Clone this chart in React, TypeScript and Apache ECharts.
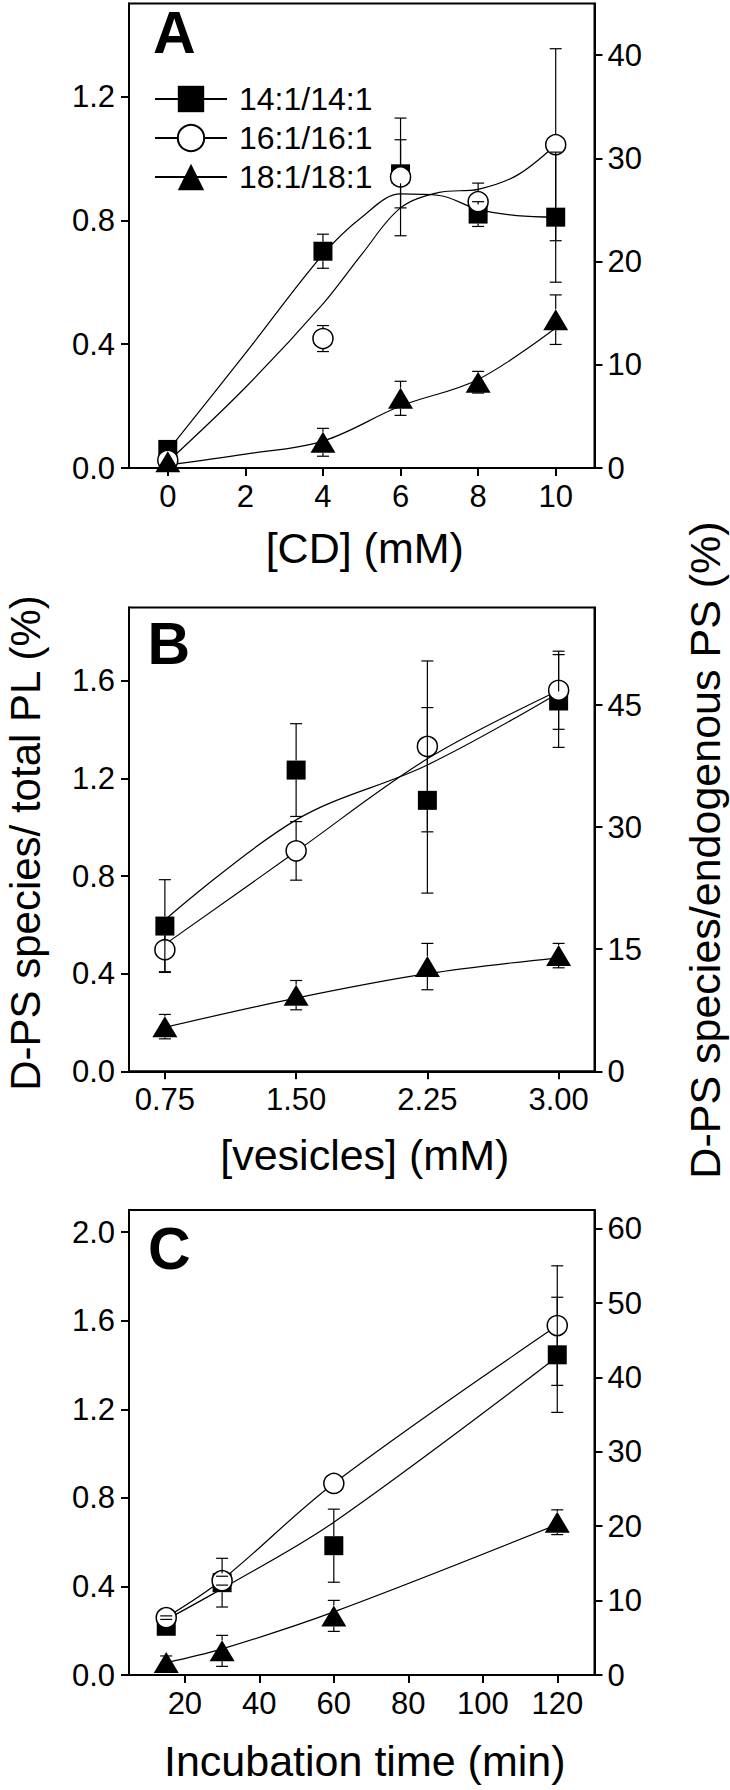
import React, { useEffect, useRef } from 'react';
import * as echarts from 'echarts';

const FONT = "'Liberation Sans', Arial, Helvetica, sans-serif";

// ---------- Panel A : [CD] (mM) ----------
const aX = [0, 4, 6, 8, 10];
const a14 = [0.06, 0.70, 0.95, 0.82, 0.81];
const a14Err = [0, 0.055, 0.11, 0.04, 0.21];
const a16 = [0.025, 0.418, 0.94, 0.86, 1.044];
const a16Err = [0, 0.042, 0.19, 0.06, 0.31];
const a18 = [0.02, 0.083, 0.225, 0.277, 0.479];
const a18Err = [0, 0.045, 0.055, 0.035, 0.08];
const aFitX = [0, 2, 4, 5, 6, 7, 8, 9, 10];
const a14Fit = [0.055, 0.37, 0.69, 0.81, 0.885, 0.88, 0.835, 0.815, 0.81];
const a16Fit = [0.02, 0.26, 0.53, 0.69, 0.84, 0.89, 0.9, 0.945, 1.044];
const a18FitX = [0, 2, 4, 6, 8, 10];
const a18Fit = [0.01, 0.045, 0.087, 0.2, 0.286, 0.452];
const aXTicks = [0, 2, 4, 6, 8, 10];
const aYTicks = [0, 0.4, 0.8, 1.2];
const aY2Ticks = [0, 10, 20, 30, 40];

// ---------- Panel B : [vesicles] (mM) ----------
const bX = [0.75, 1.5, 2.25, 3.0];
const b14 = [0.595, 1.234, 1.11, 1.517];
const b14Err = [0.19, 0.19, 0.38, 0.19];
const b16 = [0.498, 0.903, 1.331, 1.561];
const b16Err = [0.09, 0.12, 0.35, 0.16];
const b18 = [0.183, 0.312, 0.429, 0.474];
const b18Err = [0.05, 0.06, 0.095, 0.05];
const b14Fit = [0.62, 1.03, 1.255, 1.55];
const b16Fit = [0.52, 0.9, 1.28, 1.56];
const b18Fit = [0.18, 0.3, 0.4, 0.465];
const bXTicks = [0.75, 1.5, 2.25, 3.0];
const bYTicks = [0, 0.4, 0.8, 1.2, 1.6];
const bY2Ticks = [0, 15, 30, 45];

// ---------- Panel C : Incubation time (min) ----------
const cX = [15, 30, 60, 120];
const c14 = [0.22, 0.417, 0.584, 1.446];
const c14Err = [0, 0.11, 0.165, 0.26];
const c16 = [0.259, 0.426, 0.865, 1.578];
const c16Err = [0.008, 0.02, 0, 0.27];
const c18 = [0.056, 0.109, 0.267, 0.69];
const c18Err = [0.03, 0.07, 0.07, 0.056];
const c14Fit = [0.25, 0.39, 0.69, 1.437];
const c16Fit = [0.26, 0.43, 0.865, 1.578];
const c18Fit = [0.056, 0.118, 0.285, 0.68];
const cXTicks = [20, 40, 60, 80, 100, 120];
const cYTicks = [0, 0.4, 0.8, 1.2, 1.6, 2.0];
const cY2Ticks = [0, 10, 20, 30, 40, 50, 60];

const seriesNames = ['14:1/14:1', '16:1/16:1', '18:1/18:1'];

const GRID_LEFT = 129;
const GRID_RIGHT = 135.5;
const grids = [
  { top: 3.5, height: 464.5 },
  { top: 607.5, height: 463.8 },
  { top: 1210, height: 465 },
];

const kinds = [
  { symbol: 'rect', size: 19, half: 9.5, itemStyle: { color: '#000', borderColor: '#000', borderWidth: 0, opacity: 1 } },
  { symbol: 'circle', size: 20, half: 10, itemStyle: { color: '#fff', borderColor: '#000', borderWidth: 1.5, opacity: 1 } },
  { symbol: 'triangle', size: [25, 21], half: 10.5, itemStyle: { color: '#000', borderColor: '#000', borderWidth: 0, opacity: 1 } },
];

function xAxisDef(gi: number, min: number, max: number, ticks: number[], digits: number) {
  return {
    type: 'value', gridIndex: gi, min, max, position: 'bottom',
    axisLine: { show: true, onZero: false, lineStyle: { color: '#000', width: 2 } },
    axisTick: { show: true, inside: false, length: 8, customValues: ticks, lineStyle: { color: '#000', width: 2 } },
    axisLabel: {
      show: true, customValues: ticks, formatter: (v: number) => v.toFixed(digits),
      fontSize: 31, color: '#000', fontFamily: FONT, margin: 13,
    },
    splitLine: { show: false },
  };
}

function yAxisDef(gi: number, pos: string, min: number, max: number, ticks: number[], digits: number) {
  return {
    type: 'value', gridIndex: gi, min, max, position: pos,
    axisLine: { show: true, onZero: false, lineStyle: { color: '#000', width: 2 } },
    axisTick: { show: true, inside: false, length: 8, customValues: ticks, lineStyle: { color: '#000', width: 2 } },
    axisLabel: {
      show: true, customValues: ticks, formatter: (v: number) => v.toFixed(digits),
      fontSize: 31, color: '#000', fontFamily: FONT, margin: pos === 'left' ? 14 : 13,
    },
    splitLine: { show: false },
  };
}

function renderErr(params: any, api: any) {
  const x = api.value(0);
  const y = api.value(1);
  const e = api.value(2);
  const h = api.value(3);
  const c = api.coord([x, y]);
  const t = api.coord([x, y + e]);
  const b = api.coord([x, y - e]);
  const cap = 6;
  const style = { stroke: '#000', lineWidth: 1.2, fill: null };
  const children: any[] = [];
  if (c[1] - t[1] > h) children.push({ type: 'line', shape: { x1: c[0], y1: c[1] - h, x2: c[0], y2: t[1] }, style });
  children.push({ type: 'line', shape: { x1: c[0] - cap, y1: t[1], x2: c[0] + cap, y2: t[1] }, style });
  if (b[1] - c[1] > h) children.push({ type: 'line', shape: { x1: c[0], y1: c[1] + h, x2: c[0], y2: b[1] }, style });
  children.push({ type: 'line', shape: { x1: c[0] - cap, y1: b[1], x2: c[0] + cap, y2: b[1] }, style });
  return { type: 'group', children };
}

function panelSeries(
  gi: number, xs: number[], ys: number[][], errs: number[][], fitXs: number[][], fits: number[][], legendNames: boolean,
) {
  const out: any[] = [];
  for (let k = 0; k < 3; k++) {
    const kind = kinds[k];
    out.push({
      type: 'line', name: legendNames ? seriesNames[k] : `${'ABC'[gi]} fit ${seriesNames[k]}`,
      xAxisIndex: gi, yAxisIndex: gi * 2,
      data: fitXs[k].map((x, i) => [x, fits[k][i]]),
      smooth: 0.35, showSymbol: false, symbol: kind.symbol, symbolSize: kind.size,
      lineStyle: { color: '#000', width: 1.2, opacity: 1 }, itemStyle: kind.itemStyle, z: 2, silent: true,
    });
  }
  for (let k = 0; k < 3; k++) {
    const kind = kinds[k];
    out.push({
      type: 'scatter', name: `${'ABC'[gi]} pts ${seriesNames[k]}`,
      xAxisIndex: gi, yAxisIndex: gi * 2,
      data: xs.map((x, i) => [x, ys[k][i]]),
      symbol: kind.symbol, symbolSize: kind.size, itemStyle: kind.itemStyle, z: 3 + k * 0.1, silent: true,
    });
  }
  for (let k = 0; k < 3; k++) {
    const kind = kinds[k];
    const data = xs.map((x, i) => [x, ys[k][i], errs[k][i], kind.half]).filter((d) => d[2] > 0);
    out.push({
      type: 'custom', name: `${'ABC'[gi]} err ${seriesNames[k]}`,
      xAxisIndex: gi, yAxisIndex: gi * 2, data, renderItem: renderErr,
      encode: { x: 0, y: 1 }, z: 5, silent: true,
    });
  }
  return out;
}

function buildOption() {
  const series = [
    ...panelSeries(0, aX, [a14, a16, a18], [a14Err, a16Err, a18Err], [aFitX, aFitX, a18FitX], [a14Fit, a16Fit, a18Fit], true),
    ...panelSeries(1, bX, [b14, b16, b18], [b14Err, b16Err, b18Err], [bX, bX, bX], [b14Fit, b16Fit, b18Fit], false),
    ...panelSeries(2, cX, [c14, c16, c18], [c14Err, c16Err, c18Err], [cX, cX, cX], [c14Fit, c16Fit, c18Fit], false),
  ];
  const plotCx = GRID_LEFT + (730 - GRID_LEFT - GRID_RIGHT) / 2 + 3;
  const txt = (text: string, x: number, y: number, size: number, extra: any = {}) => ({
    type: 'text', x, y, silent: true, rotation: extra.rotation || 0,
    style: { text, fill: '#000', font: `${extra.bold ? 'bold ' : ''}${size}px ${FONT}`, align: extra.align || 'center', verticalAlign: 'middle' },
  });
  return {
    animation: false,
    backgroundColor: '#fff',
    grid: grids.map((g) => ({
      left: GRID_LEFT, right: GRID_RIGHT, top: g.top, height: g.height,
      show: true, borderColor: '#000', borderWidth: 2, backgroundColor: 'transparent',
      containLabel: false, outerBoundsMode: 'none',
    })),
    xAxis: [
      xAxisDef(0, -1, 11, aXTicks, 0),
      xAxisDef(1, 0.545, 3.205, bXTicks, 2),
      xAxisDef(2, 5, 130, cXTicks, 0),
    ],
    yAxis: [
      yAxisDef(0, 'left', 0, 1.5, aYTicks, 1),
      yAxisDef(0, 'right', 0, 45, aY2Ticks, 0),
      yAxisDef(1, 'left', 0, 1.9, bYTicks, 1),
      yAxisDef(1, 'right', 0, 57, bY2Ticks, 0),
      yAxisDef(2, 'left', 0, 2.1, cYTicks, 1),
      yAxisDef(2, 'right', 0, 62.5, cY2Ticks, 0),
    ],
    legend: {
      show: true, orient: 'vertical', left: 149, top: 78,
      itemWidth: 72, itemHeight: 33, itemGap: 7, selectedMode: false,
      data: seriesNames,
      textStyle: { fontSize: 32, fontFamily: FONT, color: '#000', padding: [0, 0, 0, 7] },
    },
    graphic: [
      txt('A', 153, 33.2, 59, { bold: true, align: 'left' }),
      txt('B', 147.5, 644, 59, { bold: true, align: 'left' }),
      txt('C', 148, 1249, 59, { bold: true, align: 'left' }),
      txt('[CD] (mM)', plotCx, 548, 43),
      txt('[vesicles] (mM)', plotCx, 1155, 43),
      txt('Incubation time (min)', plotCx, 1761, 43),
      txt('D-PS species/ total PL (%)', 25, 843, 42, { rotation: Math.PI / 2 }),
      txt('D-PS species/endogenous PS (%)', 705, 850, 43, { rotation: Math.PI / 2 }),
    ],
    series,
  };
}

export default function App() {
  const ref = useRef<HTMLDivElement>(null);
  useEffect(() => {
    const chart = echarts.init(ref.current as HTMLDivElement, null, { renderer: 'svg', width: 730, height: 1790 });
    chart.setOption(buildOption() as any);
    return () => chart.dispose();
  }, []);
  return (
    <div
      ref={ref}
      style={{ position: 'absolute', left: 0, top: 0, width: 730, height: 1790, background: '#fff' }}
    />
  );
}
